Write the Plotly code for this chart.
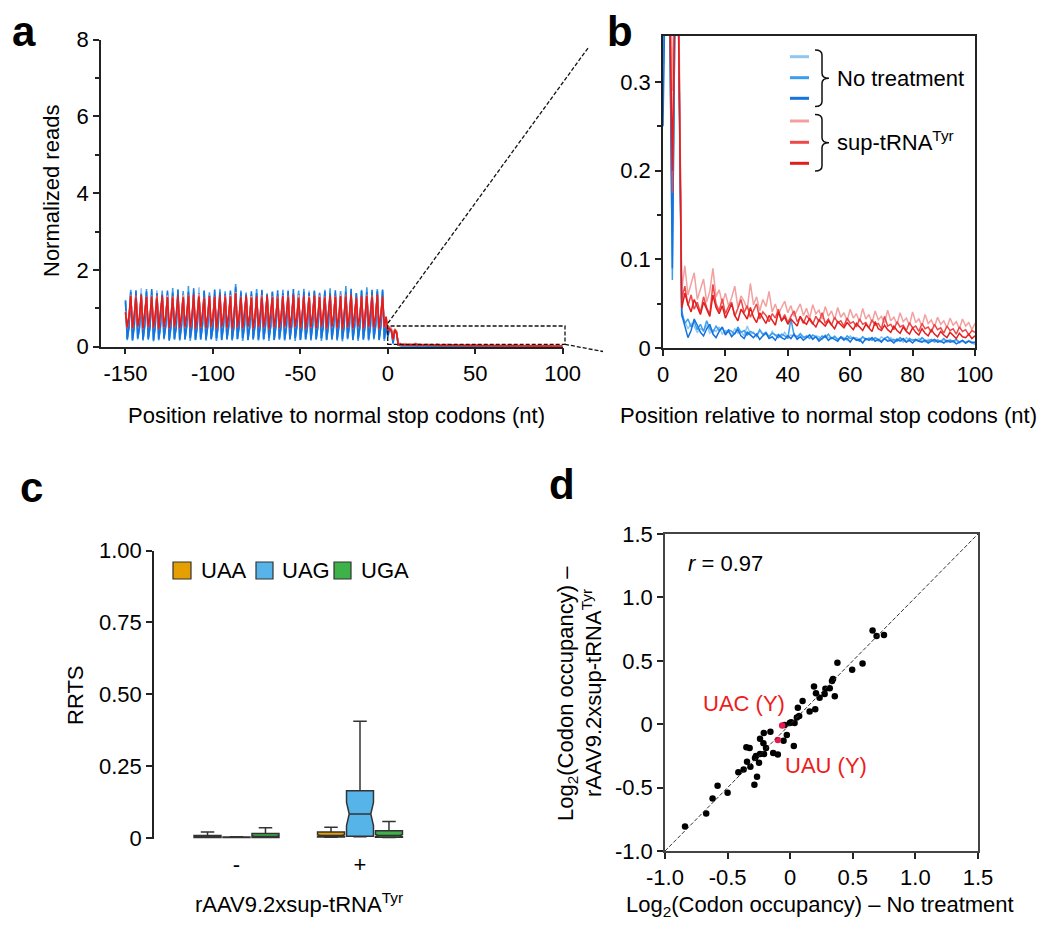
import plotly.graph_objects as go

# page body has an 8px margin: figure is sized to fill the 1050x936 window exactly
OFF = 8
W, H = 1050 - OFF, 936 - OFF
FONT = "Liberation Sans, Arial, Helvetica, sans-serif"

# ---------------- Panel a / b : metagene profiles (positions -150 .. 100) ----------------
start_pos = -150

nt1_up = [1.20,0.21,0.55, 1.45,0.19,0.57, 1.38,0.23,0.52, 1.52,0.18,0.58, 1.41,0.22,0.54, 1.35,0.20,0.56, 1.47,0.17,0.53, 1.40,0.24,0.59, 1.33,0.21,0.55, 1.44,0.19,0.52,
          1.50,0.22,0.57, 1.39,0.18,0.54, 1.42,0.23,0.56, 1.36,0.20,0.53, 1.55,0.19,0.58, 1.43,0.22,0.55, 1.38,0.21,0.52, 1.46,0.18,0.57, 1.51,0.24,0.54, 1.37,0.20,0.56,
          1.41,0.19,0.53, 1.60,0.22,0.59, 1.44,0.18,0.55, 1.39,0.23,0.52, 1.35,0.20,0.57, 1.47,0.21,0.54, 1.42,0.17,0.56, 1.38,0.22,0.53, 1.45,0.19,0.58, 1.33,0.24,0.55,
          1.40,0.20,0.52, 1.48,0.18,0.57, 1.36,0.22,0.54, 1.43,0.21,0.56, 1.39,0.19,0.53, 1.46,0.23,0.58, 1.41,0.18,0.55, 1.35,0.20,0.52, 1.49,0.22,0.57, 1.44,0.19,0.54,
          1.38,0.21,0.56, 1.42,0.17,0.53, 1.52,0.23,0.58, 1.40,0.20,0.55, 1.37,0.19,0.52, 1.45,0.22,0.57, 1.50,0.18,0.54, 1.41,0.21,0.56, 1.47,0.20,0.53, 1.43,0.19,0.57]
nt2_up = [1.22,0.17,0.50, 1.48,0.15,0.52, 1.42,0.19,0.48, 1.39,0.16,0.53, 1.50,0.18,0.49, 1.44,0.14,0.51, 1.37,0.17,0.50, 1.46,0.19,0.54, 1.41,0.15,0.48, 1.53,0.18,0.52,
          1.40,0.16,0.50, 1.45,0.19,0.53, 1.58,0.15,0.49, 1.43,0.17,0.51, 1.38,0.18,0.54, 1.47,0.16,0.50, 1.42,0.19,0.48, 1.36,0.15,0.52, 1.49,0.17,0.51, 1.44,0.18,0.49,
          1.40,0.16,0.53, 1.63,0.19,0.50, 1.46,0.15,0.52, 1.41,0.17,0.48, 1.38,0.18,0.51, 1.50,0.16,0.54, 1.45,0.19,0.49, 1.39,0.15,0.52, 1.43,0.17,0.50, 1.37,0.18,0.53,
          1.48,0.16,0.49, 1.42,0.19,0.51, 1.40,0.15,0.54, 1.46,0.17,0.50, 1.51,0.18,0.48, 1.38,0.16,0.52, 1.44,0.19,0.50, 1.41,0.15,0.53, 1.47,0.17,0.49, 1.52,0.18,0.51,
          1.39,0.16,0.50, 1.45,0.14,0.53, 1.58,0.19,0.49, 1.43,0.17,0.52, 1.40,0.15,0.50, 1.48,0.18,0.54, 1.55,0.16,0.48, 1.42,0.19,0.51, 1.50,0.17,0.52, 1.46,0.15,0.55]
nt3_up = [1.18,0.20,0.53, 1.42,0.18,0.55, 1.47,0.22,0.51, 1.36,0.19,0.56, 1.44,0.21,0.52, 1.50,0.17,0.54, 1.40,0.20,0.57, 1.35,0.22,0.53, 1.46,0.18,0.55, 1.41,0.21,0.51,
          1.48,0.19,0.56, 1.37,0.20,0.53, 1.43,0.22,0.55, 1.52,0.18,0.52, 1.39,0.21,0.57, 1.45,0.19,0.54, 1.34,0.20,0.51, 1.49,0.22,0.56, 1.42,0.18,0.53, 1.38,0.21,0.55,
          1.46,0.19,0.52, 1.55,0.20,0.57, 1.41,0.22,0.54, 1.36,0.18,0.51, 1.44,0.21,0.56, 1.40,0.19,0.53, 1.48,0.20,0.55, 1.35,0.22,0.52, 1.42,0.18,0.57, 1.47,0.21,0.54,
          1.39,0.19,0.51, 1.45,0.20,0.56, 1.50,0.22,0.53, 1.37,0.18,0.55, 1.43,0.21,0.52, 1.41,0.19,0.57, 1.46,0.20,0.54, 1.38,0.22,0.51, 1.44,0.18,0.56, 1.40,0.21,0.53,
          1.47,0.19,0.55, 1.36,0.20,0.52, 1.43,0.22,0.57, 1.51,0.18,0.54, 1.39,0.21,0.51, 1.45,0.19,0.56, 1.42,0.20,0.53, 1.48,0.22,0.55, 1.44,0.18,0.52, 1.49,0.21,0.56]
sup1_up = [0.92,0.52,0.80, 1.35,0.50,0.82, 1.28,0.54,0.78, 1.31,0.49,0.83, 1.26,0.53,0.79, 1.33,0.51,0.81, 1.29,0.48,0.84, 1.25,0.52,0.80, 1.34,0.50,0.78, 1.30,0.54,0.82,
           1.27,0.49,0.80, 1.36,0.53,0.83, 1.29,0.51,0.79, 1.32,0.48,0.81, 1.38,0.52,0.84, 1.28,0.50,0.80, 1.33,0.54,0.78, 1.26,0.49,0.82, 1.31,0.53,0.80, 1.29,0.51,0.83,
           1.35,0.48,0.79, 1.42,0.52,0.81, 1.30,0.50,0.84, 1.27,0.54,0.80, 1.32,0.49,0.78, 1.29,0.53,0.82, 1.34,0.51,0.80, 1.26,0.48,0.83, 1.31,0.52,0.79, 1.28,0.50,0.81,
           1.33,0.54,0.84, 1.30,0.49,0.80, 1.27,0.53,0.78, 1.35,0.51,0.82, 1.29,0.48,0.80, 1.32,0.52,0.83, 1.26,0.50,0.79, 1.34,0.54,0.81, 1.30,0.49,0.84, 1.28,0.53,0.80,
           1.31,0.51,0.78, 1.36,0.48,0.82, 1.29,0.52,0.80, 1.33,0.50,0.83, 1.27,0.54,0.79, 1.30,0.49,0.81, 1.35,0.53,0.84, 1.28,0.51,0.80, 1.32,0.48,0.82, 1.30,0.52,0.79]
sup2_up = [0.88,0.49,0.77, 1.30,0.47,0.80, 1.33,0.51,0.76, 1.27,0.46,0.81, 1.31,0.50,0.77, 1.25,0.48,0.79, 1.34,0.45,0.82, 1.29,0.49,0.78, 1.26,0.47,0.76, 1.32,0.51,0.80,
           1.28,0.46,0.78, 1.30,0.50,0.81, 1.35,0.48,0.77, 1.27,0.45,0.79, 1.33,0.49,0.82, 1.29,0.47,0.78, 1.24,0.51,0.76, 1.31,0.46,0.80, 1.28,0.50,0.78, 1.34,0.48,0.81,
           1.30,0.45,0.77, 1.38,0.49,0.79, 1.26,0.47,0.82, 1.32,0.51,0.78, 1.29,0.46,0.76, 1.27,0.50,0.80, 1.33,0.48,0.78, 1.30,0.45,0.81, 1.25,0.49,0.77, 1.31,0.47,0.79,
           1.28,0.51,0.82, 1.34,0.46,0.78, 1.29,0.50,0.76, 1.26,0.48,0.80, 1.32,0.45,0.78, 1.30,0.49,0.81, 1.35,0.47,0.77, 1.27,0.51,0.79, 1.31,0.46,0.82, 1.28,0.50,0.78,
           1.33,0.48,0.76, 1.29,0.45,0.80, 1.36,0.49,0.78, 1.30,0.47,0.81, 1.26,0.51,0.77, 1.32,0.46,0.79, 1.28,0.50,0.82, 1.34,0.48,0.78, 1.30,0.45,0.80, 1.27,0.49,0.77]
sup3_up = [0.90,0.51,0.79, 1.33,0.49,0.81, 1.27,0.53,0.77, 1.35,0.48,0.82, 1.29,0.52,0.78, 1.31,0.50,0.80, 1.26,0.47,0.83, 1.33,0.51,0.79, 1.29,0.49,0.77, 1.27,0.53,0.81,
           1.34,0.48,0.79, 1.28,0.52,0.82, 1.31,0.50,0.78, 1.36,0.47,0.80, 1.30,0.51,0.83, 1.27,0.49,0.79, 1.32,0.53,0.77, 1.29,0.48,0.81, 1.35,0.52,0.79, 1.28,0.50,0.82,
           1.31,0.47,0.78, 1.40,0.51,0.80, 1.29,0.49,0.83, 1.33,0.53,0.79, 1.27,0.48,0.77, 1.31,0.52,0.81, 1.28,0.50,0.79, 1.34,0.47,0.82, 1.30,0.51,0.78, 1.26,0.49,0.80,
           1.32,0.53,0.83, 1.29,0.48,0.79, 1.35,0.52,0.77, 1.28,0.50,0.81, 1.31,0.47,0.79, 1.27,0.51,0.82, 1.33,0.49,0.78, 1.30,0.53,0.80, 1.28,0.48,0.83, 1.34,0.52,0.79,
           1.29,0.50,0.77, 1.32,0.47,0.81, 1.30,0.51,0.79, 1.35,0.49,0.82, 1.28,0.53,0.78, 1.31,0.48,0.80, 1.33,0.52,0.83, 1.29,0.50,0.79, 1.36,0.47,0.81, 1.31,0.51,0.78]

nt1_down = [0.28, 0.45, 0.40, 0.13, 0.42, 0.36,
            0.036, 0.030, 0.022, 0.028, 0.025, 0.018, 0.022, 0.020, 0.026, 0.017, 0.021, 0.019, 0.024, 0.016, 0.020, 0.018, 0.015, 0.022, 0.017, 0.019,
            0.014, 0.025, 0.016, 0.018, 0.013, 0.020, 0.015, 0.017, 0.012, 0.019, 0.014, 0.016, 0.013, 0.018, 0.012, 0.015, 0.014, 0.011, 0.017, 0.013,
            0.012, 0.015, 0.011, 0.014, 0.013, 0.010, 0.015, 0.012, 0.011, 0.014, 0.010, 0.013, 0.012, 0.009, 0.014, 0.011, 0.012, 0.010, 0.013, 0.009,
            0.012, 0.010, 0.011, 0.008, 0.013, 0.010, 0.009, 0.012, 0.008, 0.011, 0.010, 0.007, 0.012, 0.009, 0.010, 0.008, 0.011, 0.009, 0.007, 0.010,
            0.009, 0.008, 0.010, 0.007, 0.009, 0.008, 0.010, 0.007, 0.009, 0.006, 0.008, 0.007, 0.009, 0.006, 0.004]
nt2_down = [0.32, 0.50, 0.44, 0.077, 0.46, 0.38,
            0.042, 0.028, 0.033, 0.024, 0.030, 0.021, 0.027, 0.019, 0.031, 0.022, 0.018, 0.025, 0.020, 0.023, 0.017, 0.021, 0.019, 0.016, 0.024, 0.018,
            0.020, 0.015, 0.019, 0.017, 0.014, 0.021, 0.016, 0.018, 0.013, 0.017, 0.015, 0.012, 0.016, 0.014, 0.011, 0.033, 0.015, 0.013, 0.016, 0.012,
            0.014, 0.011, 0.015, 0.013, 0.010, 0.014, 0.012, 0.016, 0.011, 0.013, 0.010, 0.012, 0.009, 0.014, 0.011, 0.012, 0.010, 0.008, 0.013, 0.010,
            0.011, 0.009, 0.012, 0.010, 0.008, 0.011, 0.013, 0.009, 0.010, 0.008, 0.012, 0.009, 0.007, 0.011, 0.009, 0.010, 0.008, 0.012, 0.009, 0.008,
            0.010, 0.007, 0.009, 0.008, 0.011, 0.007, 0.009, 0.008, 0.010, 0.007, 0.009, 0.006, 0.008, 0.007, 0.006]
nt3_down = [0.25, 0.48, 0.42, 0.09, 0.44, 0.35,
            0.038, 0.024, 0.012, 0.020, 0.033, 0.026, 0.018, 0.014, 0.022, 0.027, 0.016, 0.012, 0.019, 0.024, 0.015, 0.020, 0.013, 0.017, 0.021, 0.014,
            0.011, 0.018, 0.015, 0.012, 0.016, 0.010, 0.014, 0.017, 0.011, 0.013, 0.009, 0.015, 0.012, 0.010, 0.014, 0.011, 0.016, 0.010, 0.013, 0.009,
            0.012, 0.015, 0.010, 0.013, 0.008, 0.011, 0.014, 0.009, 0.012, 0.010, 0.008, 0.013, 0.010, 0.011, 0.007, 0.012, 0.009, 0.010, 0.006, 0.011,
            0.009, 0.012, 0.008, 0.010, 0.007, 0.011, 0.008, 0.009, 0.006, 0.010, 0.008, 0.011, 0.007, 0.009, 0.006, 0.010, 0.008, 0.007, 0.009, 0.006,
            0.008, 0.010, 0.007, 0.008, 0.006, 0.009, 0.007, 0.008, 0.005, 0.007, 0.009, 0.006, 0.008, 0.006, 0.007]
sup1_down = [0.45, 0.52, 0.48, 0.29, 0.47, 0.41,
             0.065, 0.093, 0.060, 0.072, 0.085, 0.055, 0.068, 0.078, 0.052, 0.064, 0.090, 0.058, 0.066, 0.050, 0.062, 0.048, 0.057, 0.070, 0.046, 0.059,
             0.053, 0.044, 0.073, 0.049, 0.058, 0.042, 0.055, 0.047, 0.064, 0.041, 0.050, 0.038, 0.046, 0.053, 0.040, 0.048, 0.036, 0.044, 0.050, 0.037,
             0.045, 0.034, 0.049, 0.039, 0.043, 0.033, 0.047, 0.036, 0.042, 0.032, 0.046, 0.035, 0.040, 0.031, 0.044, 0.034, 0.039, 0.030, 0.045, 0.033,
             0.038, 0.029, 0.042, 0.032, 0.036, 0.028, 0.043, 0.031, 0.035, 0.027, 0.040, 0.030, 0.034, 0.026, 0.041, 0.029, 0.033, 0.025, 0.038, 0.028,
             0.032, 0.024, 0.035, 0.027, 0.031, 0.023, 0.034, 0.026, 0.030, 0.022, 0.033, 0.025, 0.029, 0.021, 0.028]
sup2_down = [0.42, 0.49, 0.44, 0.175, 0.45, 0.38,
             0.055, 0.070, 0.048, 0.060, 0.044, 0.052, 0.040, 0.058, 0.046, 0.038, 0.072, 0.050, 0.042, 0.056, 0.039, 0.047, 0.052, 0.036, 0.045, 0.055,
             0.040, 0.048, 0.035, 0.043, 0.050, 0.033, 0.041, 0.037, 0.030, 0.039, 0.034, 0.044, 0.031, 0.038, 0.029, 0.036, 0.042, 0.030, 0.035, 0.028,
             0.037, 0.032, 0.027, 0.036, 0.030, 0.040, 0.028, 0.033, 0.026, 0.035, 0.029, 0.031, 0.025, 0.034, 0.028, 0.030, 0.024, 0.033, 0.027, 0.029,
             0.023, 0.032, 0.026, 0.028, 0.022, 0.036, 0.025, 0.027, 0.021, 0.030, 0.024, 0.026, 0.020, 0.029, 0.023, 0.025, 0.019, 0.028, 0.022, 0.024,
             0.018, 0.027, 0.021, 0.023, 0.017, 0.025, 0.020, 0.022, 0.016, 0.024, 0.019, 0.021, 0.015, 0.020, 0.018]
sup3_down = [0.40, 0.47, 0.43, 0.20, 0.44, 0.36,
             0.045, 0.062, 0.050, 0.041, 0.055, 0.047, 0.038, 0.052, 0.044, 0.036, 0.060, 0.046, 0.039, 0.048, 0.034, 0.042, 0.050, 0.037, 0.031, 0.044,
             0.038, 0.033, 0.046, 0.035, 0.029, 0.040, 0.034, 0.028, 0.037, 0.032, 0.026, 0.041, 0.031, 0.035, 0.027, 0.033, 0.029, 0.025, 0.036, 0.030,
             0.027, 0.034, 0.028, 0.024, 0.032, 0.029, 0.025, 0.031, 0.026, 0.022, 0.030, 0.027, 0.023, 0.029, 0.025, 0.021, 0.028, 0.024, 0.020, 0.027,
             0.023, 0.019, 0.030, 0.022, 0.020, 0.026, 0.021, 0.018, 0.025, 0.020, 0.017, 0.024, 0.019, 0.016, 0.023, 0.018, 0.015, 0.022, 0.017, 0.014,
             0.021, 0.016, 0.013, 0.019, 0.015, 0.012, 0.018, 0.014, 0.011, 0.017, 0.013, 0.012, 0.016, 0.011, 0.014]

nt_series = [nt1_up + nt1_down, nt2_up + nt2_down, nt3_up + nt3_down]
sup_series = [sup1_up + sup1_down, sup2_up + sup2_down, sup3_up + sup3_down]
nt_colors = ["#8fc6f2", "#3c9ded", "#1473dc"]
sup_colors = ["#f2a0a0", "#ec4a4a", "#e21d1d"]

# ---------------- Panel c : RRTS box statistics ----------------
groups = ["-", "+"]
stop_codons = ["UAA", "UAG", "UGA"]
stop_colors = ["#E69F00", "#56B4E9", "#3DB249"]
box_lower = [[0.001, 0.002], [0.001, 0.004], [0.001, 0.001]]
box_q1 = [[0.001, 0.003], [0.001, 0.006], [0.001, 0.002]]
box_median = [[0.004, 0.008], [0.002, 0.083], [0.005, 0.008]]
box_q3 = [[0.008, 0.020], [0.003, 0.164], [0.015, 0.025]]
box_upper = [[0.020, 0.037], [0.004, 0.406], [0.035, 0.057]]
box_notch = [[0.001, 0.003], [0.0005, 0.040], [0.002, 0.004]]

# ---------------- Panel d : codon occupancy ----------------
occ_nt = [0.658, 0.690, 0.749, 0.377, 0.578, 0.495, 0.342, 0.334, 0.190, 0.206, 0.281, 0.316, 0.275, 0.235, 0.356,
          0.099, 0.200, 0.155, 0.061, 0.072, 0.053, 0.035, 0.008, -0.003, -0.045, -0.027, -0.053, 0.029, -0.158, -0.211,
          -0.241, -0.214, -0.193, -0.209, -0.136, -0.099, -0.241, -0.273, -0.281, -0.249, -0.350, -0.324, -0.345, -0.318,
          -0.372, -0.414, -0.265, -0.286, -0.500, -0.580, -0.620, -0.671, -0.840]
occ_sup = [0.738, 0.696, 0.704, 0.485, 0.479, 0.429, 0.356, 0.340, 0.297, 0.245, 0.279, 0.284, 0.239, 0.208, 0.221,
           0.182, 0.118, 0.100, 0.129, 0.065, 0.052, 0.010, 0.015, 0.010, -0.006, -0.085, -0.130, -0.172, -0.059, -0.069,
           -0.114, -0.151, -0.188, -0.235, -0.227, -0.238, -0.235, -0.251, -0.267, -0.304, -0.182, -0.188, -0.296, -0.335,
           -0.357, -0.378, -0.415, -0.478, -0.541, -0.486, -0.586, -0.705, -0.807]
tyr_codons = ["UAC (Y)", "UAU (Y)"]
tyr_nt = [-0.064, -0.099]
tyr_sup = [-0.011, -0.124]
r_value = 0.97


def PX(x):
    return (x - OFF) / W


def PY(y):
    return 1 - (y - OFF) / H


fig = go.Figure()

# panel a (blue first, red over)
for ser, col in list(zip(nt_series, nt_colors)) + list(zip(sup_series, sup_colors)):
    fig.add_trace(go.Scatter(x=[start_pos + i for i in range(len(ser))], y=ser, mode="lines",
                             line=dict(color=col, width=1.6), xaxis="x", yaxis="y",
                             showlegend=False, hoverinfo="skip"))
# panel b
for ser, col in list(zip(nt_series, nt_colors)) + list(zip(sup_series, sup_colors)):
    xs = [start_pos + i for i in range(len(ser))]
    sub = [(x, v) for x, v in zip(xs, ser) if x >= 0]
    fig.add_trace(go.Scatter(x=[s[0] for s in sub], y=[s[1] for s in sub], mode="lines",
                             line=dict(color=col, width=1.5), xaxis="x2", yaxis="y2",
                             showlegend=False, hoverinfo="skip"))
# panel c
for k, name in enumerate(stop_codons):
    fig.add_trace(go.Box(x=groups, name=name, q1=box_q1[k], median=box_median[k], q3=box_q3[k],
                         lowerfence=box_lower[k], upperfence=box_upper[k], notchspan=box_notch[k],
                         notched=True, notchwidth=0.1, boxpoints=False,
                         fillcolor=stop_colors[k], line=dict(color="#333333", width=1.5),
                         xaxis="x3", yaxis="y3", showlegend=False, hoverinfo="skip"))
# panel d
fig.add_trace(go.Scatter(x=occ_nt, y=occ_sup, mode="markers",
                         marker=dict(color="black", size=6.5, line=dict(width=0)),
                         xaxis="x4", yaxis="y4", showlegend=False, hoverinfo="skip"))
fig.add_trace(go.Scatter(x=tyr_nt, y=tyr_sup, mode="markers",
                         marker=dict(color="#e8194f", size=6.5, line=dict(width=0)),
                         xaxis="x4", yaxis="y4", showlegend=False, hoverinfo="skip"))

AX = dict(showline=True, linecolor="#222222", linewidth=1.5, ticks="outside", ticklen=6,
          tickwidth=1.5, tickcolor="#222222", showgrid=False, zeroline=False, automargin=False,
          tickfont=dict(size=22, color="#000000", family=FONT))

fig.update_layout(
    template="none",
    width=W, height=H, autosize=False, margin=dict(l=0, r=0, t=0, b=0, pad=0),
    paper_bgcolor="white", plot_bgcolor="white", showlegend=False,
    font=dict(family=FONT, size=22, color="#000000"),
    boxmode="group", boxgap=0.296, boxgroupgap=0.07,
    xaxis=dict(AX, domain=[PX(101), PX(562.7)], range=[-164, 100], anchor="y",
               tickvals=[-150, -100, -50, 0, 50, 100], ticktext=["-150", "-100", "-50", "0", "50", "100"]),
    yaxis=dict(AX, domain=[PY(346.7), PY(39.5)], range=[0, 8], anchor="x",
               tickvals=[0, 2, 4, 6, 8],
               minor=dict(tickvals=[1, 3, 5, 7], ticks="outside", ticklen=4, tickwidth=1.5, tickcolor="#222222")),
    xaxis2=dict(AX, domain=[PX(663), PX(975)], range=[0, 100], anchor="y2", mirror=True,
                tickvals=[0, 20, 40, 60, 80, 100]),
    yaxis2=dict(AX, domain=[PY(348.3), PY(35.7)], range=[0, 0.352], anchor="x2", mirror=True,
                tickvals=[0, 0.1, 0.2, 0.3], ticktext=["0", "0.1", "0.2", "0.3"],
                minor=dict(tickvals=[0.05, 0.15, 0.25], ticks="outside", ticklen=4, tickwidth=1.5, tickcolor="#222222")),
    xaxis3=dict(AX, domain=[PX(154), PX(421.75)], type="category", categoryorder="array",
                categoryarray=groups, range=[-0.668, 1.5], anchor="y3", showline=False, ticks="",
                ticklabelstandoff=10),
    yaxis3=dict(AX, domain=[PY(839), PY(550.7)], range=[-0.004, 1.0], anchor="x3",
                tickvals=[0, 0.25, 0.5, 0.75, 1.0], ticktext=["0", "0.25", "0.50", "0.75", "1.00"]),
    xaxis4=dict(AX, domain=[PX(665), PX(978)], range=[-1, 1.5], anchor="y4", mirror=True,
                linecolor="#444444", tickvals=[-1, -0.5, 0, 0.5, 1, 1.5],
                ticktext=["-1.0", "-0.5", "0", "0.5", "1.0", "1.5"]),
    yaxis4=dict(AX, domain=[PY(851), PY(534)], range=[-1, 1.5], anchor="x4", mirror=True,
                linecolor="#444444", tickvals=[-1, -0.5, 0, 0.5, 1, 1.5],
                ticktext=["-1.0", "-0.5", "0", "0.5", "1.0", "1.5"]),
)

shapes = []
DASH = dict(color="#111111", width=1.3, dash="4px,2px")
# zoom rectangle and connectors (panel a -> b)
shapes.append(dict(type="rect", xref="paper", yref="paper", x0=PX(387.7), x1=PX(565), y0=PY(344.3), y1=PY(326),
                   line=DASH, fillcolor="rgba(0,0,0,0)"))
shapes.append(dict(type="line", xref="paper", yref="paper", x0=PX(388), y0=PY(323), x1=PX(588), y1=PY(48), line=DASH))
shapes.append(dict(type="line", xref="paper", yref="paper", x0=PX(565), y0=PY(344.3), x1=PX(603), y1=PY(351.5), line=DASH))

# panel b legend
leg_y = [56.7, 77.7, 98.3, 121, 142.3, 163.3]
for yy, col in zip(leg_y, nt_colors + sup_colors):
    shapes.append(dict(type="line", xref="paper", yref="paper", x0=PX(790), x1=PX(809), y0=PY(yy), y1=PY(yy),
                       line=dict(color=col, width=3)))


def brace(top, bottom, x0=815, xm=822, x1=829, r=5):
    mid = (top + bottom) / 2
    pts = [
        f"M {PX(x0)},{PY(top)}",
        f"Q {PX(xm)},{PY(top)} {PX(xm)},{PY(top + r)}",
        f"L {PX(xm)},{PY(mid - r)}",
        f"Q {PX(xm)},{PY(mid)} {PX(x1)},{PY(mid)}",
        f"Q {PX(xm)},{PY(mid)} {PX(xm)},{PY(mid + r)}",
        f"L {PX(xm)},{PY(bottom - r)}",
        f"Q {PX(xm)},{PY(bottom)} {PX(x0)},{PY(bottom)}",
    ]
    return " ".join(pts)


shapes.append(dict(type="path", xref="paper", yref="paper", path=brace(50, 106.5),
                   line=dict(color="#111111", width=1.5)))
shapes.append(dict(type="path", xref="paper", yref="paper", path=brace(114.5, 171),
                   line=dict(color="#111111", width=1.5)))

# panel c legend squares
for (xa, xb), col in zip([(173, 191), (256, 273), (334, 351)], stop_colors):
    shapes.append(dict(type="rect", xref="paper", yref="paper", x0=PX(xa), x1=PX(xb), y0=PY(579), y1=PY(562),
                       line=dict(color="#333333", width=1.2), fillcolor=col))

# panel d identity line
shapes.append(dict(type="line", xref="x4", yref="y4", x0=-1, y0=-1, x1=1.5, y1=1.5,
                   line=dict(color="#333333", width=1, dash="4px,2px")))

fig.update_layout(shapes=shapes)


def ann(text, x, y, size=22, xanchor="center", angle=0, color="#000000", bold=False):
    t = f"<b>{text}</b>" if bold else text
    return dict(text=t, x=PX(x), y=PY(y), xref="paper", yref="paper", showarrow=False,
                xanchor=xanchor, yanchor="middle", textangle=angle,
                font=dict(size=size, color=color, family=FONT))


anns = [
    ann("a", 24, 32, size=42, bold=True),
    ann("b", 620, 32, size=42, bold=True),
    ann("c", 31.5, 487, size=42, bold=True),
    ann("d", 562, 484, size=42, bold=True),
    ann("Normalized reads", 51, 191, angle=-90),
    ann("Position relative to normal stop codons (nt)", 336, 415),
    ann("Position relative to normal stop codons (nt)", 828, 415),
    ann("No treatment", 835, 78, xanchor="left"),
    ann("sup-tRNA<sup>Tyr</sup>", 835, 141, xanchor="left"),
    ann("RRTS", 75, 695, angle=-90),
    ann("rAAV9.2xsup-tRNA<sup>Tyr</sup>", 299, 903),
    ann(stop_codons[0], 199, 570, xanchor="left"),
    ann(stop_codons[1], 280, 570, xanchor="left"),
    ann(stop_codons[2], 359, 570, xanchor="left"),
    ann("Log<sub>2</sub>(Codon occupancy) – No treatment", 820, 906),
    ann("Log<sub>2</sub>(Codon occupancy) –", 567, 694, angle=-90),
    ann("rAAV9.2xsup-tRNA<sup>Tyr</sup>", 592, 693, angle=-90),
]
anns.append(dict(text=f"<i>r</i> = {r_value:.2f}", x=-0.83, y=1.265, xref="x4", yref="y4", showarrow=False,
                 xanchor="left", yanchor="middle", font=dict(size=22, color="#000000", family=FONT)))
anns.append(dict(text=tyr_codons[0], x=-0.366, y=0.16, xref="x4", yref="y4", showarrow=False,
                 xanchor="center", yanchor="middle", font=dict(size=22, color="#ee1c1c", family=FONT)))
anns.append(dict(text=tyr_codons[1], x=0.283, y=-0.328, xref="x4", yref="y4", showarrow=False,
                 xanchor="center", yanchor="middle", font=dict(size=22, color="#ee1c1c", family=FONT)))
fig.update_layout(annotations=anns)

fig.write_html("out.html")
